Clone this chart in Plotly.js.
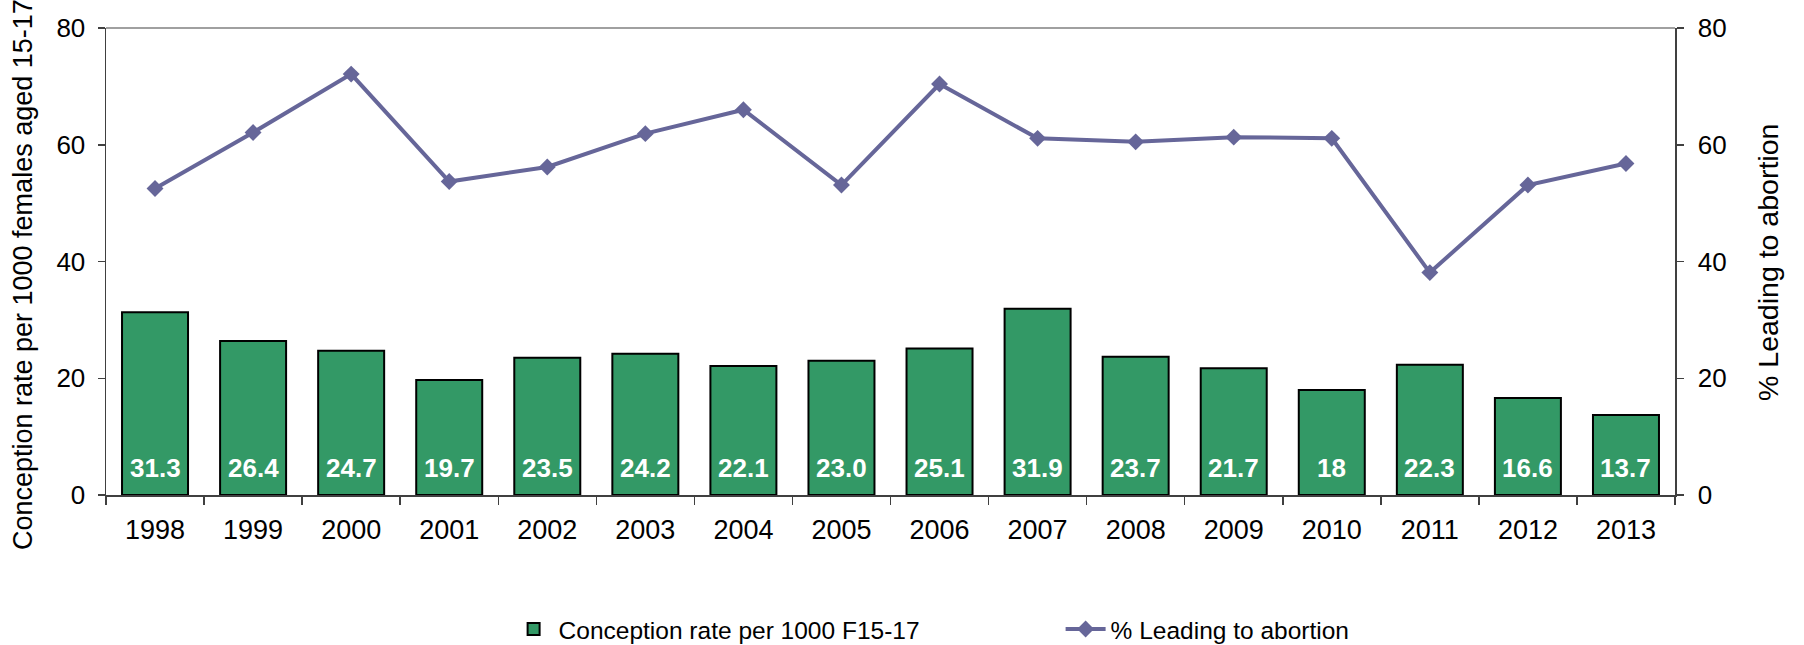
<!DOCTYPE html>
<html>
<head>
<meta charset="utf-8">
<script src="https://cdn.plot.ly/plotly-3.0.1.min.js"></script>
<style>html,body{margin:0;padding:0;background:#fff;}#chart{width:1804px;height:645px;}</style>
</head>
<body>
<div id="chart"></div>
<script>
const years = ["1998","1999","2000","2001","2002","2003","2004","2005","2006","2007","2008","2009","2010","2011","2012","2013"];
const conceptionRate = [31.3, 26.4, 24.7, 19.7, 23.5, 24.2, 22.1, 23.0, 25.1, 31.9, 23.7, 21.7, 18, 22.3, 16.6, 13.7];
const conceptionLabels = ["31.3","26.4","24.7","19.7","23.5","24.2","22.1","23.0","25.1","31.9","23.7","21.7","18","22.3","16.6","13.7"];
const pctAbortion = [52.5, 62.1, 72.1, 53.7, 56.2, 61.9, 66.0, 53.1, 70.4, 61.1, 60.5, 61.3, 61.1, 38.1, 53.1, 56.8];
const yTicks = [0, 20, 40, 60, 80];
const leftTitle = "Conception rate per 1000 females aged 15-17";
const rightTitle = "% Leading to abortion";

const FONT = "Liberation Sans, Arial, sans-serif";
const AXIS_COLOR = "#404040";
const TICKFONT = {family: FONT, size: 26, color: "#000000"};

const traces = [
  {
    type: "bar",
    name: "Conception rate per 1000 F15-17",
    x: years,
    y: conceptionRate,
    marker: {color: "#339966", line: {color: "#000000", width: 2}},
    hoverinfo: "x+y"
  },
  {
    type: "scatter",
    mode: "lines+markers",
    name: "% Leading to abortion",
    x: years,
    y: pctAbortion,
    yaxis: "y2",
    line: {color: "#666699", width: 4},
    marker: {symbol: "diamond", size: 13, color: "#666699"}
  }
];

const annotations = years.map((yr, i) => ({
  x: i, y: 0, xref: "x", yref: "y",
  text: conceptionLabels[i],
  showarrow: false,
  yanchor: "bottom",
  yshift: 10,
  font: {family: FONT, size: 26, color: "#ffffff", weight: "bold"}
}));
annotations.push({
  xref: "paper", yref: "paper", x: -0.0529, y: 0.473,
  xanchor: "center", yanchor: "middle", textangle: -90, showarrow: false,
  text: leftTitle, font: {family: FONT, size: 27, color: "#000000"}
});
annotations.push({
  xref: "paper", yref: "paper", x: 1.0593, y: 0.497,
  xanchor: "center", yanchor: "middle", textangle: -90, showarrow: false,
  text: rightTitle, font: {family: FONT, size: 28.5, color: "#000000"}
});

const layout = {
  width: 1804, height: 645,
  margin: {l: 106, r: 129, t: 28, b: 150, autoexpand: false},
  paper_bgcolor: "#ffffff",
  plot_bgcolor: "#ffffff",
  font: {family: FONT, size: 26, color: "#000000"},
  bargap: 0.327,
  showlegend: true,
  legend: {
    orientation: "h",
    x: 0.2566, xanchor: "left",
    y: -0.287, yanchor: "middle",
    font: {family: FONT, size: 24.5, color: "#000000"},
    entrywidth: 497,
    itemwidth: 40,
    traceorder: "normal"
  },
  xaxis: {
    type: "category",
    categoryorder: "array", categoryarray: years,
    range: [-0.5, years.length - 0.5],
    autorange: false,
    tickangle: 0,
    showline: true, linecolor: AXIS_COLOR, linewidth: 1.5,
    ticks: "outside", ticklen: 8, tickcolor: AXIS_COLOR, tickwidth: 1.5,
    tickson: "boundaries",
    ticklabelstandoff: 10,
    tickfont: {family: FONT, size: 27, color: "#000000"},
    showgrid: false, zeroline: false
  },
  xaxis2: {
    overlaying: "x", anchor: "y",
    range: [-0.5, years.length - 0.5], autorange: false,
    tick0: -0.5, dtick: 1,
    ticks: "inside", ticklen: 7, tickcolor: AXIS_COLOR, tickwidth: 1.5,
    showticklabels: false, showline: false, showgrid: false, zeroline: false
  },
  yaxis: {
    range: [0, 80], autorange: false,
    tickvals: yTicks,
    showline: true, linecolor: AXIS_COLOR, linewidth: 1.5,
    ticks: "outside", ticklen: 7, tickcolor: AXIS_COLOR, tickwidth: 1.5,
    ticklabelstandoff: 7,
    tickfont: TICKFONT,
    showgrid: false, zeroline: false
  },
  yaxis2: {
    range: [0, 80], autorange: false,
    tickvals: yTicks,
    overlaying: "y", side: "right",
    showline: true, linecolor: AXIS_COLOR, linewidth: 1.5,
    ticks: "outside", ticklen: 7, tickcolor: AXIS_COLOR, tickwidth: 1.5,
    ticklabelstandoff: 9,
    tickfont: TICKFONT,
    showgrid: false, zeroline: false
  },
  yaxis3: {
    range: [0, 80], autorange: false,
    tickvals: yTicks,
    overlaying: "y", side: "left", anchor: "x",
    ticks: "inside", ticklen: 7, tickcolor: AXIS_COLOR, tickwidth: 1.5,
    showticklabels: false, showline: false, showgrid: false, zeroline: false
  },
  yaxis4: {
    range: [0, 80], autorange: false,
    tickvals: yTicks,
    overlaying: "y", side: "right", anchor: "x",
    ticks: "inside", ticklen: 7, tickcolor: AXIS_COLOR, tickwidth: 1.5,
    showticklabels: false, showline: false, showgrid: false, zeroline: false
  },
  shapes: [
    {type: "line", xref: "paper", yref: "paper", x0: 0, x1: 1, y0: 1, y1: 1, line: {color: "#808080", width: 1.5}, layer: "below"}
  ],
  annotations: annotations
};

Plotly.newPlot("chart", traces, layout, {displayModeBar: false, staticPlot: true});
</script>
</body>
</html>
